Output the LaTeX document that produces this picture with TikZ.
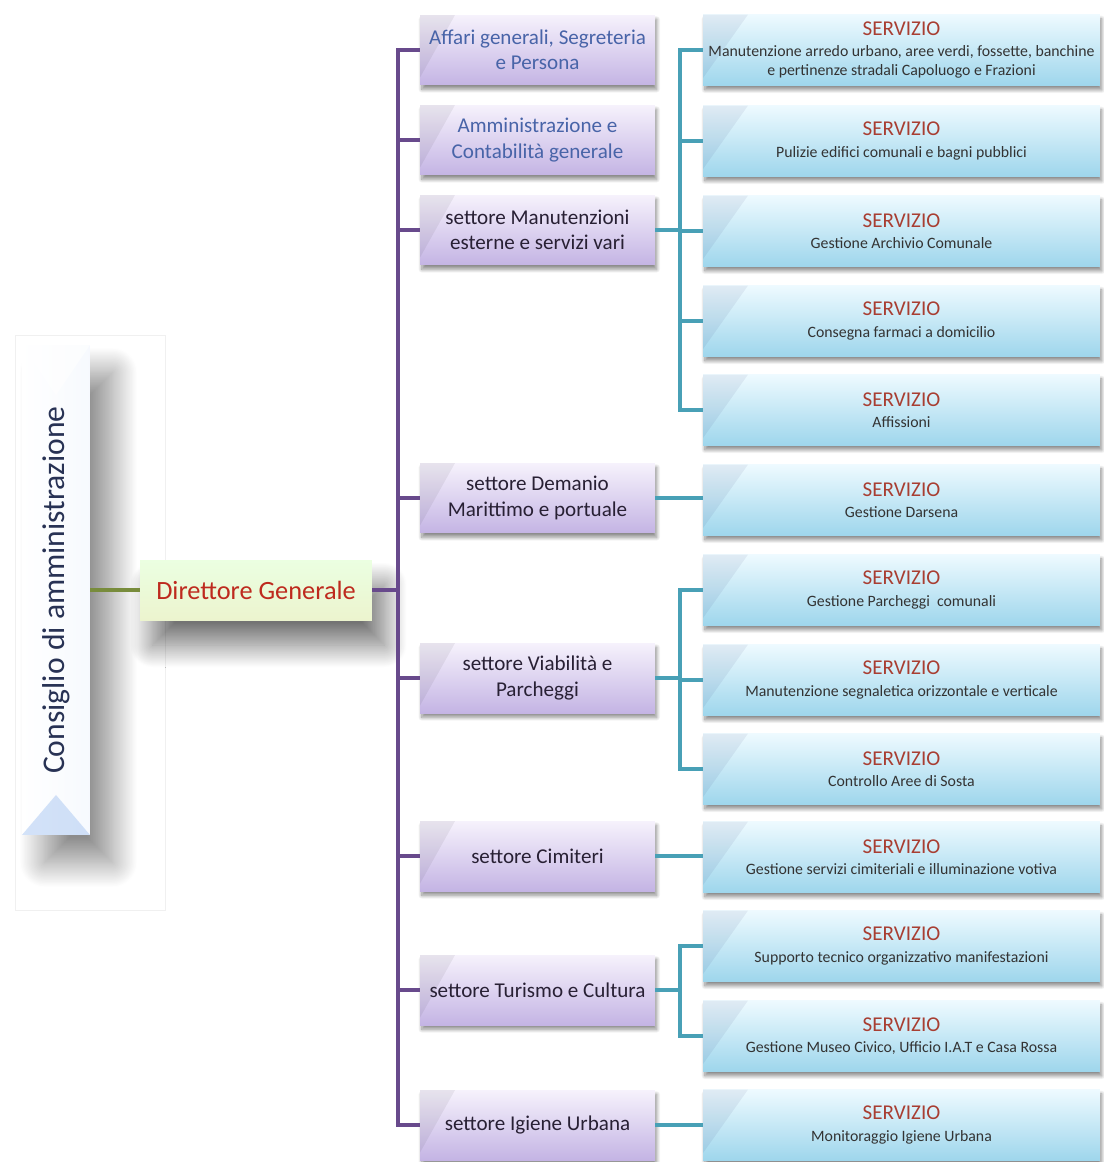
\documentclass[tikz,border=0pt]{standalone}
\usepackage{fontspec}
\setmainfont{Carlito}
\usepackage{graphicx}
\usetikzlibrary{shadows.blur,calc}
\definecolor{pline}{RGB}{104,74,140}
\definecolor{tline}{RGB}{72,160,182}
\definecolor{gline}{RGB}{120,140,60}
\definecolor{ptop}{RGB}{246,242,252}
\definecolor{pbot}{RGB}{196,180,228}
\definecolor{stop}{RGB}{238,250,255}
\definecolor{sbot}{RGB}{158,214,236}
\definecolor{txtblue}{RGB}{72,100,168}
\definecolor{txtdark}{RGB}{40,32,52}
\definecolor{servred}{RGB}{168,62,50}
\definecolor{dgred}{RGB}{190,42,30}
\definecolor{cbl}{RGB}{168,198,242}
\definecolor{ctxt}{RGB}{40,50,84}
\tikzset{
  settorebox/.style={minimum width=4.7cm, minimum height=1.4cm, inner sep=1pt,
    top color=ptop, bottom color=pbot, align=center, font=\fontsize{12}{14.5}\selectfont,
    text=txtdark,
    blur shadow={shadow xshift=1pt, shadow yshift=-2.5pt, shadow blur radius=2pt, shadow opacity=45, shadow blur steps=12},
    path picture={\fill[black,opacity=0.06] (path picture bounding box.north west) -- ++(0.7cm,0) -- ([yshift=0.15cm]path picture bounding box.south west) -- cycle;}},
  servbox/.style={minimum width=7.94cm, minimum height=1.42cm, inner sep=1pt,
    top color=stop, bottom color=sbot, align=center, font=\fontsize{9}{11}\selectfont,
    text=black!80,
    blur shadow={shadow xshift=1pt, shadow yshift=-2.5pt, shadow blur radius=2pt, shadow opacity=45, shadow blur steps=12},
    path picture={\fill[black!70!blue,opacity=0.06] (path picture bounding box.north west) -- ++(0.9cm,0) -- ([yshift=0.15cm]path picture bounding box.south west) -- cycle;}},
  pconn/.style={draw=pline, line width=2.2pt},
  tconn/.style={draw=tline, line width=1.8pt},
}
\newcommand{\serv}[1]{{\fontsize{12}{14}\selectfont\color{servred}SERVIZIO}\\[1pt]#1}
\begin{document}
\begin{tikzpicture}[x=0.02cm,y=-0.02cm]
\useasboundingbox (0,0) rectangle (1103,1162);
% faint frame behind the Consiglio box
\draw[black!6, line width=0.4pt] (15,335) rectangle (165,910);
% Consiglio
\node[minimum width=1.36cm, minimum height=9.8cm, inner sep=0pt,
  left color=white, middle color=cbl!55, right color=white!90!cbl,
  blur shadow={shadow xshift=0.45cm, shadow yshift=-0.55cm, shadow blur radius=0.5cm, shadow opacity=45, shadow blur steps=40},
  path picture={
    \fill[cbl,opacity=0.5] (path picture bounding box.south west) -- (path picture bounding box.south east) -- ([yshift=0.8cm]path picture bounding box.south) -- cycle;
    \fill[white,opacity=0.6] (path picture bounding box.north west) -- (path picture bounding box.north east) -- ([yshift=-1.0cm]path picture bounding box.north) -- cycle;}
  ] (cda) at (56,590) {\rotatebox{90}{\fontsize{18}{20}\selectfont\color{ctxt}Consiglio di amministrazione}};
% Direttore
\node[minimum width=4.64cm, minimum height=1.2cm, inner sep=0pt,
  top color=white!70!yellow!60!green!20, bottom color={rgb,255:red,236;green,244;blue,206},
  blur shadow={shadow xshift=0.25cm, shadow yshift=-0.5cm, shadow blur radius=0.45cm, shadow opacity=55, shadow blur steps=40},
  font=\fontsize{15}{17}\selectfont, text=dgred] (dg) at (256,590) {Direttore Generale};
% settori
\node[settorebox, text=txtblue] (s1) at (537.5,50) {Affari generali, Segreteria\\e Persona};
\node[settorebox, text=txtblue] (s2) at (537.5,140) {Amministrazione e\\Contabilità generale};
\node[settorebox] (s3) at (537.5,230) {settore Manutenzioni\\esterne e servizi vari};
\node[settorebox] (s4) at (537.5,498) {settore Demanio\\Marittimo e portuale};
\node[settorebox] (s5) at (537.5,678) {settore Viabilità e\\Parcheggi};
\node[settorebox] (s6) at (537.5,856) {settore Cimiteri};
\node[settorebox] (s7) at (537.5,990) {settore Turismo e Cultura};
\node[settorebox] (s8) at (537.5,1125) {settore Igiene Urbana};
% servizi
\node[servbox] (v1) at (901.5,50) {\serv{Manutenzione arredo urbano, aree verdi, fossette, banchine\\e pertinenze stradali Capoluogo e Frazioni}};
\node[servbox] (v2) at (901.5,141) {\serv{Pulizie edifici comunali e bagni pubblici}};
\node[servbox] (v3) at (901.5,231) {\serv{Gestione Archivio Comunale}};
\node[servbox] (v4) at (901.5,321) {\serv{Consegna farmaci a domicilio}};
\node[servbox] (v5) at (901.5,410) {\serv{Affissioni}};
\node[servbox] (v6) at (901.5,500) {\serv{Gestione Darsena}};
\node[servbox] (v7) at (901.5,590) {\serv{Gestione Parcheggi\ \ comunali}};
\node[servbox] (v8) at (901.5,680) {\serv{Manutenzione segnaletica orizzontale e verticale}};
\node[servbox] (v9) at (901.5,769) {\serv{Controllo Aree di Sosta}};
\node[servbox] (v10) at (901.5,857) {\serv{Gestione servizi cimiteriali e illuminazione votiva}};
\node[servbox] (v11) at (901.5,946) {\serv{Supporto tecnico organizzativo manifestazioni}};
\node[servbox] (v12) at (901.5,1036) {\serv{Gestione Museo Civico, Ufficio I.A.T e Casa Rossa}};
\node[servbox] (v13) at (901.5,1125) {\serv{Monitoraggio Igiene Urbana}};
% connectors
\coordinate (ptr) at (398,0);
\coordinate (ttr) at (680,0);
\draw[draw=gline, line width=2pt] (cda.east |- dg.west) -- (dg.west);
\foreach \s in {s1,s2,s3,s4,s5,s6,s7,s8}
  \draw[pconn] (dg.east) -- (dg.east -| ptr) |- (\s.west);
\foreach \v in {v1,v2,v3,v4,v5}
  \draw[tconn] (s3.east) -- (s3.east -| ttr) |- (\v.west);
\draw[tconn] (s4.east) -- (v6.west |- s4.east);
\foreach \v in {v7,v8,v9}
  \draw[tconn] (s5.east) -- (s5.east -| ttr) |- (\v.west);
\draw[tconn] (s6.east) -- (v10.west |- s6.east);
\foreach \v in {v11,v12}
  \draw[tconn] (s7.east) -- (s7.east -| ttr) |- (\v.west);
\draw[tconn] (s8.east) -- (v13.west);
\end{tikzpicture}
\end{document}
